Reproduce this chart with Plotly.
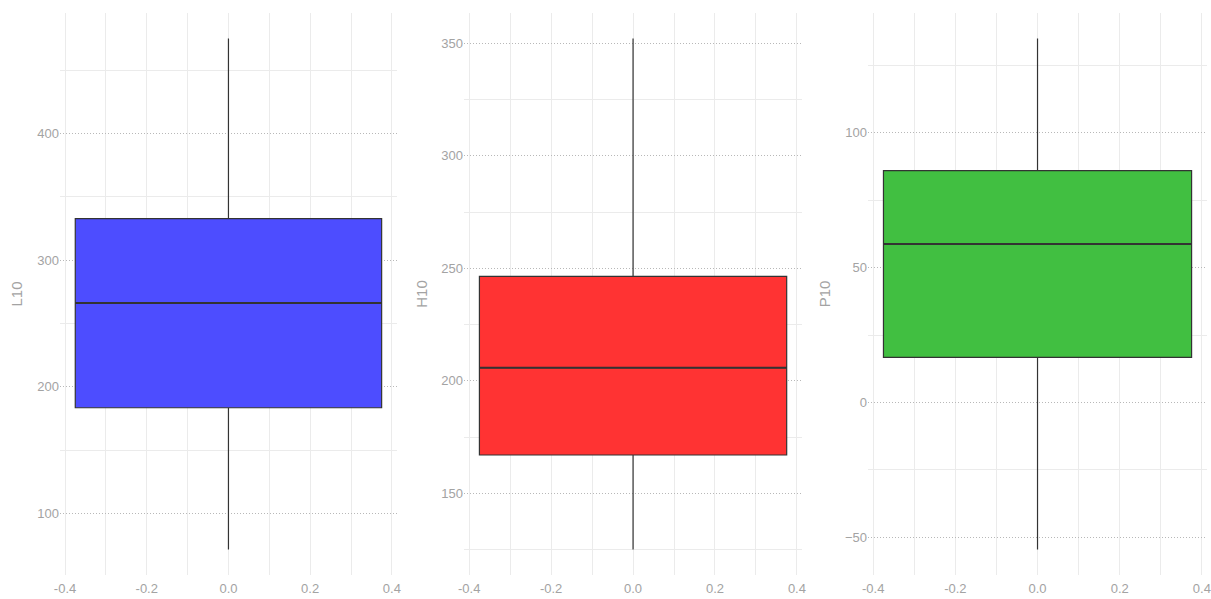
import plotly.graph_objects as go

# Data
names = ["L10", "H10", "P10"]
lower_whisker = [71.5, 125.0, -54.5]
q1 = [183.4, 167.0, 16.7]
median = [266.2, 205.8, 58.7]
q3 = [332.7, 246.4, 85.9]
upper_whisker = [475.0, 352.2, 134.9]
fill_colors = ["#4D4DFF", "#FF3333", "#41BF41"]
y_major = [100, 50, 50]
x_tickvals = [-0.4, -0.2, 0.0, 0.2, 0.4]
x_ticktext = ["-0.4", "-0.2", "0.0", "0.2", "0.4"]

BOX_W = 0.75
domains = [(0.0495, 0.3278), (0.3832, 0.6623), (0.7168, 0.9967)]

tick_font = dict(family="Liberation Sans, Arial, sans-serif", size=13, color="#A3A3A3")
title_font = dict(family="Liberation Sans, Arial, sans-serif", size=15, color="#A3A3A3")

fig = go.Figure()
layout = {}
for i, name in enumerate(names):
    ax = "" if i == 0 else str(i + 1)
    fig.add_trace(go.Box(
        x=[0], q1=[q1[i]], median=[median[i]], q3=[q3[i]],
        lowerfence=[lower_whisker[i]], upperfence=[upper_whisker[i]],
        width=BOX_W, whiskerwidth=0, fillcolor=fill_colors[i],
        line=dict(color="#333333", width=1.2), boxpoints=False,
        xaxis="x" + ax, yaxis="y" + ax, showlegend=False, name=name,
    ))
    fig.add_trace(go.Scatter(
        x=[-BOX_W / 2, BOX_W / 2], y=[median[i], median[i]], mode="lines",
        line=dict(color="#333333", width=2), xaxis="x" + ax, yaxis="y" + ax,
        showlegend=False, hoverinfo="skip",
    ))
    span = upper_whisker[i] - lower_whisker[i]
    yr = [lower_whisker[i] - 0.05 * span, upper_whisker[i] + 0.05 * span]
    xr = [-BOX_W / 2 - 0.05 * BOX_W, BOX_W / 2 + 0.05 * BOX_W]
    layout["xaxis" + ax] = dict(
        domain=list(domains[i]), anchor="y" + ax, range=xr, automargin=False,
        tickvals=x_tickvals, ticktext=x_ticktext, tickfont=tick_font,
        ticklabelstandoff=4,
        showgrid=True, gridcolor="#EBEBEB", gridwidth=1, zeroline=False,
        showline=False, ticks="",
        minor=dict(dtick=0.1, tick0=0, showgrid=True, gridcolor="#EBEBEB",
                   gridwidth=1, griddash="solid"),
    )
    layout["yaxis" + ax] = dict(
        domain=[0, 1], anchor="x" + ax, range=yr, automargin=False,
        dtick=y_major[i], tick0=0, tickfont=tick_font,
        title=dict(text=name, font=title_font, standoff=10),
        showgrid=True, gridcolor="#B8B8B8", gridwidth=1, griddash="1px,2px",
        zeroline=False, showline=False, ticks="",
        minor=dict(dtick=y_major[i] / 2, tick0=0, showgrid=True, gridcolor="#EBEBEB",
                   gridwidth=1, griddash="solid"),
    )

fig.update_layout(
    template="none",
    width=1211, height=599,
    margin=dict(l=0, r=0, t=13, b=24),
    paper_bgcolor="white", plot_bgcolor="white",
    showlegend=False,
    **layout,
)

fig.write_html("out.html")
